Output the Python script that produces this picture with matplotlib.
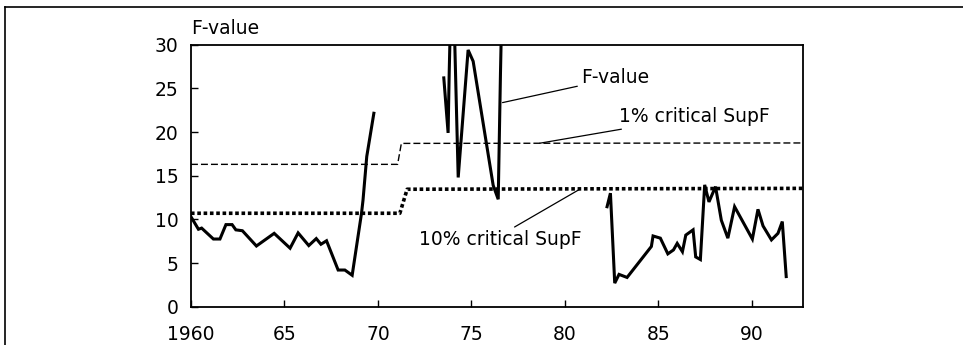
import numpy as np
import matplotlib.pyplot as plt
from matplotlib.lines import Line2D

plt.rcParams["font.family"] = ["DejaVu Sans"]
plt.rcParams["font.size"] = 13.5

# F-value, three pieces (gaps where the statistic is not shown)
years_a = [1960.0, 1960.4, 1960.57, 1961.2, 1961.55, 1961.87, 1962.2, 1962.4, 1962.75,
           1963.5, 1964.45, 1965.3, 1965.73, 1966.3, 1966.7, 1966.95, 1967.25, 1967.87,
           1968.23, 1968.62, 1969.12, 1969.2, 1969.4, 1969.78]
fval_a = [10.3, 8.87, 9.0, 7.75, 7.75, 9.4, 9.4, 8.8, 8.7,
          6.95, 8.4, 6.7, 8.45, 7.0, 7.8, 7.15, 7.55, 4.2,
          4.2, 3.6, 10.7, 12.2, 17.2, 22.15]

years_b = [1973.52, 1973.75, 1973.81, 1973.97, 1974.29, 1974.82, 1975.09,
           1976.16, 1976.43, 1976.55, 1976.62]
fval_b = [26.2, 19.9, 26.9, 41.6, 14.8, 29.4, 28.1,
          13.9, 12.3, 26.7, 34.0]

years_c = [1982.25, 1982.43, 1982.66, 1982.89, 1983.32, 1984.62, 1984.71, 1985.1,
           1985.5, 1985.8, 1986.0, 1986.28, 1986.46, 1986.85, 1986.99, 1987.24,
           1987.47, 1987.7, 1988.05, 1988.36, 1988.71, 1989.07, 1990.02, 1990.32,
           1990.59, 1991.04, 1991.39, 1991.62, 1991.83]
fval_c = [11.45, 13.0, 2.7, 3.7, 3.35, 6.9, 8.1, 7.85,
          6.05, 6.5, 7.25, 6.3, 8.2, 8.8, 5.7, 5.4,
          13.95, 12.0, 13.75, 9.9, 7.85, 11.45, 7.75, 11.15,
          9.25, 7.65, 8.4, 9.75, 3.45]

# critical values of SupF
crit_years_1 = [1960.0, 1971.05, 1971.25, 1992.73]
crit_1pct = [16.3, 16.3, 18.7, 18.75]
crit_years_10 = [1960.0, 1971.17, 1971.56, 1992.73]
crit_10pct = [10.7, 10.7, 13.45, 13.55]

xticks = [1960, 1965, 1970, 1975, 1980, 1985, 1990]
xticklabels = ["1960", "65", "70", "75", "80", "85", "90"]
yticks = [0, 5, 10, 15, 20, 25, 30]

fig = plt.figure(figsize=(9.63, 3.45), dpi=100)
ax = fig.add_axes([0.1983, 0.111, 0.6356, 0.7594])

ax.plot(crit_years_1, crit_1pct, color="black", lw=1.0, ls=(0, (5.0, 2.2)))
ax.plot(crit_years_10, crit_10pct, color="black", lw=2.6, ls=(0, (1, 0.75)))
for xs, ys in [(years_a, fval_a), (years_b, fval_b), (years_c, fval_c)]:
    ax.plot(xs, ys, color="black", lw=2.2, solid_joinstyle="miter")

ax.set_xlim(1960, 1992.73)
ax.set_ylim(0, 30)
ax.set_xticks(xticks)
ax.set_xticklabels(xticklabels)
ax.set_yticks(yticks)
ax.tick_params(direction="in", length=5, width=1, pad=9)
ax.tick_params(axis="x", pad=13)
for s in ax.spines.values():
    s.set_linewidth(1.3)

fig.text(0.1983, 0.901, "F-value", ha="left", va="baseline")

# leader lines with labels
ax.annotate("F-value", xy=(1976.66, 23.37), xytext=(1980.88, 26.2),
            va="center", ha="left",
            arrowprops=dict(arrowstyle="-", lw=0.9, color="black", shrinkA=1, shrinkB=0))
ax.annotate("1% critical SupF", xy=(1978.65, 18.72), xytext=(1982.88, 21.76),
            va="center", ha="left",
            arrowprops=dict(arrowstyle="-", lw=0.9, color="black", shrinkA=1, shrinkB=0))
ax.annotate("10% critical SupF", xy=(1980.79, 13.45), xytext=(1972.2, 7.64),
            va="center", ha="left",
            arrowprops=dict(arrowstyle="-", lw=0.9, color="black", shrinkA=1, shrinkB=0,
                            relpos=(0.55, 1.0)))

# outer frame of the page (top and left edge)
fig.add_artist(Line2D([5 / 963, 5 / 963], [0, 1 - 6.5 / 345], color="black", lw=1.2,
                      transform=fig.transFigure))
fig.add_artist(Line2D([5 / 963, 1], [1 - 6.5 / 345, 1 - 6.5 / 345], color="black", lw=1.2,
                      transform=fig.transFigure))

fig.savefig("out.png", dpi=100)
